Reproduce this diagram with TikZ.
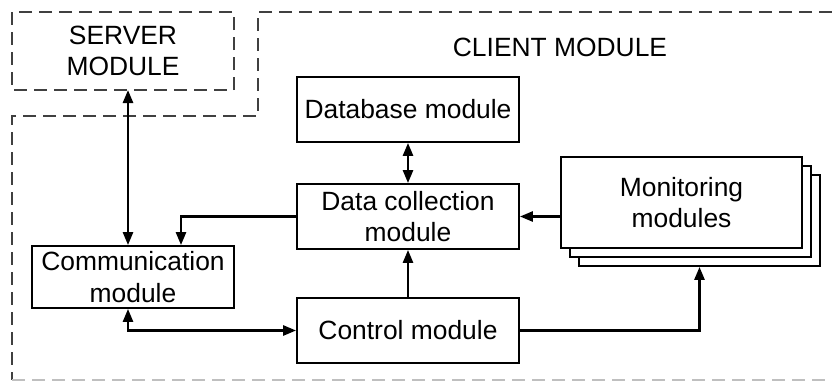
\documentclass[tikz,border=0pt]{standalone}
\usepackage{fontspec}
\setmainfont{Liberation Sans}
\usetikzlibrary{arrows.meta,calc}
\begin{document}
\begin{tikzpicture}[x=1pt,y=-1pt,
  box/.style={draw=black,line width=1.8pt,fill=white,inner sep=0pt,align=center,
    font=\fontsize{26.4}{31.5}\selectfont},
  dashedline/.style={draw=black!75,line width=2.2pt,dash pattern=on 13pt off 7pt},
  conn/.style={line width=2.6pt,-{Triangle[length=13pt,width=10pt]}},
  bconn/.style={line width=2.6pt,{Triangle[length=13pt,width=10pt]}-{Triangle[length=13pt,width=10pt]}},
  lbl/.style={font=\fontsize{26.4}{31.5}\selectfont,align=center,inner sep=0pt}]
\useasboundingbox (0,0) rectangle (832,383);
% outlines
\draw[dashedline] (12,12) rectangle (234,90);
\draw[dashedline] (832,12) -- (258,12) -- (258,116) -- (12,116) -- (12,380);
\draw[dashedline,draw=black!25] (12,380) -- (832,380);
\node[lbl] (server) at (123,51) {SERVER\\MODULE};
\coordinate (serverb) at (123,90);
\node[lbl] (client) at (560,47) {CLIENT MODULE};
% boxes
\node[box,minimum width=222pt,minimum height=65pt] (db) at (408,109.5) {Database module};
\node[box,minimum width=222pt,minimum height=65pt] (dc) at (408,216.5) {Data collection\\module};
\node[box,minimum width=202pt,minimum height=62pt] (comm) at (133,277) {Communication\\module};
\node[box,minimum width=222pt,minimum height=65pt] (ctrl) at (408,330.5) {Control module};
\node[box,minimum width=241pt,minimum height=91pt] (mon3) at (699.5,220.5) {};
\node[box,minimum width=241pt,minimum height=91pt] (mon2) at (690.5,211.5) {};
\node[box,minimum width=241pt,minimum height=91pt] (mon) at (681.5,202.5) {Monitoring\\modules};
% connectors
\coordinate (cx) at (128,0);
\coordinate (cy) at (181,0);
\draw[bconn] (serverb -| cx) -- (comm.north -| cx);
\draw[conn] (dc.west) -| (comm.north -| cy);
\draw[bconn] (db.south) -- (dc.north);
\draw[conn] (mon.west |- dc.east) -- (dc.east);
\draw[conn] (ctrl.north) -- (dc.south);
\draw[bconn] (comm.south -| cx) |- (ctrl.west);
\draw[conn] (ctrl.east) -| (mon3.south);
\end{tikzpicture}
\end{document}
